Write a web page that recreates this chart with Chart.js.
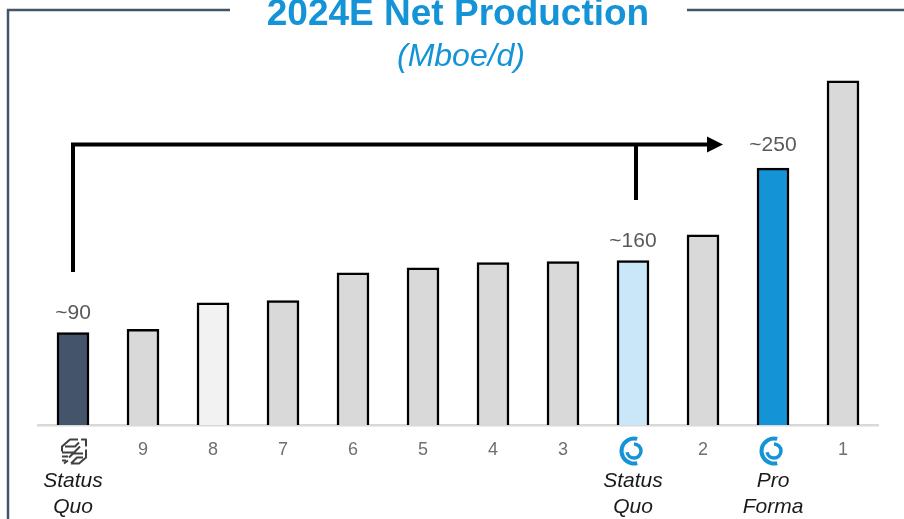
<!DOCTYPE html>
<html>
<head>
<meta charset="utf-8">
<style>
  html, body { margin: 0; padding: 0; background: #fff; overflow: hidden; }
  #wrap { width: 904px; height: 519px; }
</style>
</head>
<body>
<div id="wrap"><canvas id="prodChart"></canvas></div>
<script src="https://cdn.jsdelivr.net/npm/chart.js@4"></script>
<script>
// Net production by company, ranked
const rankLabels = ['', '9', '8', '7', '6', '5', '4', '3', '', '2', '', '1'];
const production = [90, 93, 119, 121, 148, 153, 158, 159, 160, 185, 250, 335];
const barColors = ['#44546a', '#d9d9d9', '#f2f2f2', '#d9d9d9', '#d9d9d9', '#d9d9d9', '#d9d9d9', '#d9d9d9', '#c9e7f9', '#d9d9d9', '#1494d6', '#d9d9d9'];
const valueLabels = ['~90', '', '', '', '', '', '', '', '~160', '', '~250', ''];
const subLabels = [['Status', 'Quo'], [], [], [], [], [], [], [], ['Status', 'Quo'], [], ['Pro', 'Forma'], []];
const logos = ['mono', '', '', '', '', '', '', '', 'ring', '', 'ring', ''];

const titleText = '2024E Net Production';
const unitText = '(Mboe/d)';
const FONT = '"Liberation Sans", Arial, sans-serif';

// hatched logo under the first bar, split by a white diagonal
function drawMonoLogo(ctx, cx, cy) {
  ctx.save();
  ctx.translate(cx, cy);
  ctx.strokeStyle = '#404040';
  ctx.lineWidth = 2;
  ctx.lineJoin = 'round';
  ctx.beginPath();
  // upper left half
  ctx.moveTo(-12, 0); ctx.lineTo(-12, -5); ctx.lineTo(-4, -12); ctx.lineTo(4, -12);
  ctx.moveTo(-9, -5); ctx.lineTo(1, -5); ctx.lineTo(5, -9);
  ctx.moveTo(-12, 1); ctx.lineTo(0, 1); ctx.lineTo(6, -5);
  ctx.moveTo(-12, 5); ctx.lineTo(-6, 5);
  // arrow tip, upper right corner
  ctx.moveTo(7, -12); ctx.lineTo(12, -12); ctx.lineTo(12, -5);
  // lower right half
  ctx.moveTo(12, -2); ctx.lineTo(12, 6); ctx.lineTo(5, 12); ctx.lineTo(-3, 12);
  ctx.moveTo(-5, 6); ctx.lineTo(-1, 2); ctx.lineTo(9, 2);
  ctx.moveTo(-3, 12); ctx.lineTo(3, 6); ctx.lineTo(9, 6);
  // feet, lower left corner
  ctx.moveTo(-12, 9); ctx.lineTo(-8, 9);
  ctx.moveTo(-10, 12); ctx.lineTo(-6, 9);
  ctx.stroke();
  ctx.restore();
}

// blue double arc logo: open ring with a smaller hook inside
function drawRingLogo(ctx, cx, cy) {
  const deg = Math.PI / 180;
  ctx.save();
  ctx.strokeStyle = '#1494d6';
  ctx.lineCap = 'butt';
  ctx.lineWidth = 4;
  ctx.beginPath();
  ctx.arc(cx, cy, 12.5, -75 * deg, 75 * deg, true);
  ctx.stroke();
  ctx.lineWidth = 3.5;
  ctx.beginPath();
  ctx.arc(cx, cy, 7, -90 * deg, 170 * deg);
  ctx.stroke();
  ctx.restore();
}

// frame, headings, value labels, logos and the growth arrow
const overlayPlugin = {
  id: 'overlay',
  afterDraw(chart) {
    const ctx = chart.ctx;
    const x = chart.scales.x;
    const y = chart.scales.y;
    ctx.save();

    ctx.strokeStyle = '#44546a';
    ctx.lineWidth = 2.5;
    ctx.beginPath();
    ctx.moveTo(230, 10); ctx.lineTo(8, 10); ctx.lineTo(8, 519);
    ctx.moveTo(687, 10); ctx.lineTo(904, 10);
    ctx.stroke();

    ctx.textAlign = 'center';
    ctx.textBaseline = 'alphabetic';
    ctx.fillStyle = '#1494d6';
    ctx.font = 'bold 37px ' + FONT;
    ctx.fillText(titleText, 458, 25);
    ctx.font = 'italic 32px ' + FONT;
    ctx.fillText(unitText, 461, 66);

    production.forEach((v, i) => {
      const cx = x.getPixelForValue(i);
      if (valueLabels[i]) {
        ctx.fillStyle = '#595959';
        ctx.font = '21px ' + FONT;
        ctx.textBaseline = 'middle';
        ctx.fillText(valueLabels[i], cx, y.getPixelForValue(v) - (v > 200 ? 23 : 19));
      }
      ctx.fillStyle = '#1a1a1a';
      ctx.font = 'italic 21px ' + FONT;
      ctx.textBaseline = 'middle';
      subLabels[i].forEach((line, n) => ctx.fillText(line, cx, 481 + n * 26));
      if (logos[i] === 'mono') drawMonoLogo(ctx, cx + 1, 451.5);
      if (logos[i] === 'ring') drawRingLogo(ctx, cx + 1, 451);
    });

    // arrow from the first bar across to the combined bar
    const startX = x.getPixelForValue(0);
    const branchX = x.getPixelForValue(8) + 3;
    const arrowY = y.getPixelForValue(273);
    ctx.strokeStyle = '#000';
    ctx.fillStyle = '#000';
    ctx.lineWidth = 4;
    ctx.beginPath();
    ctx.moveTo(startX, y.getPixelForValue(149));
    ctx.lineTo(startX, arrowY);
    ctx.lineTo(708, arrowY);
    ctx.moveTo(branchX, arrowY);
    ctx.lineTo(branchX, y.getPixelForValue(219));
    ctx.stroke();
    ctx.beginPath();
    ctx.moveTo(723, arrowY);
    ctx.lineTo(707, arrowY - 8);
    ctx.lineTo(707, arrowY + 8);
    ctx.closePath();
    ctx.fill();
    ctx.restore();
  }
};

new Chart(document.getElementById('prodChart'), {
  type: 'bar',
  data: {
    labels: rankLabels,
    datasets: [{
      data: production,
      backgroundColor: barColors,
      borderColor: '#000',
      borderWidth: 2.5,
      barThickness: 32
    }]
  },
  options: {
    responsive: true,
    maintainAspectRatio: false,
    animation: false,
    layout: { padding: { left: 38, right: 26, top: 50, bottom: 0 } },
    plugins: { legend: { display: false }, tooltip: { enabled: false } },
    scales: {
      x: {
        grid: { display: false, drawTicks: false },
        border: { color: '#d9d9d9', width: 2.5 },
        ticks: {
          color: '#6f6f6f',
          font: { family: FONT, size: 18 },
          padding: 14,
          maxRotation: 0,
          autoSkip: false
        },
        afterFit(scale) { scale.height = 94; }
      },
      y: {
        display: false,
        min: 0,
        max: 365
      }
    }
  },
  plugins: [overlayPlugin]
});
</script>
</body>
</html>
